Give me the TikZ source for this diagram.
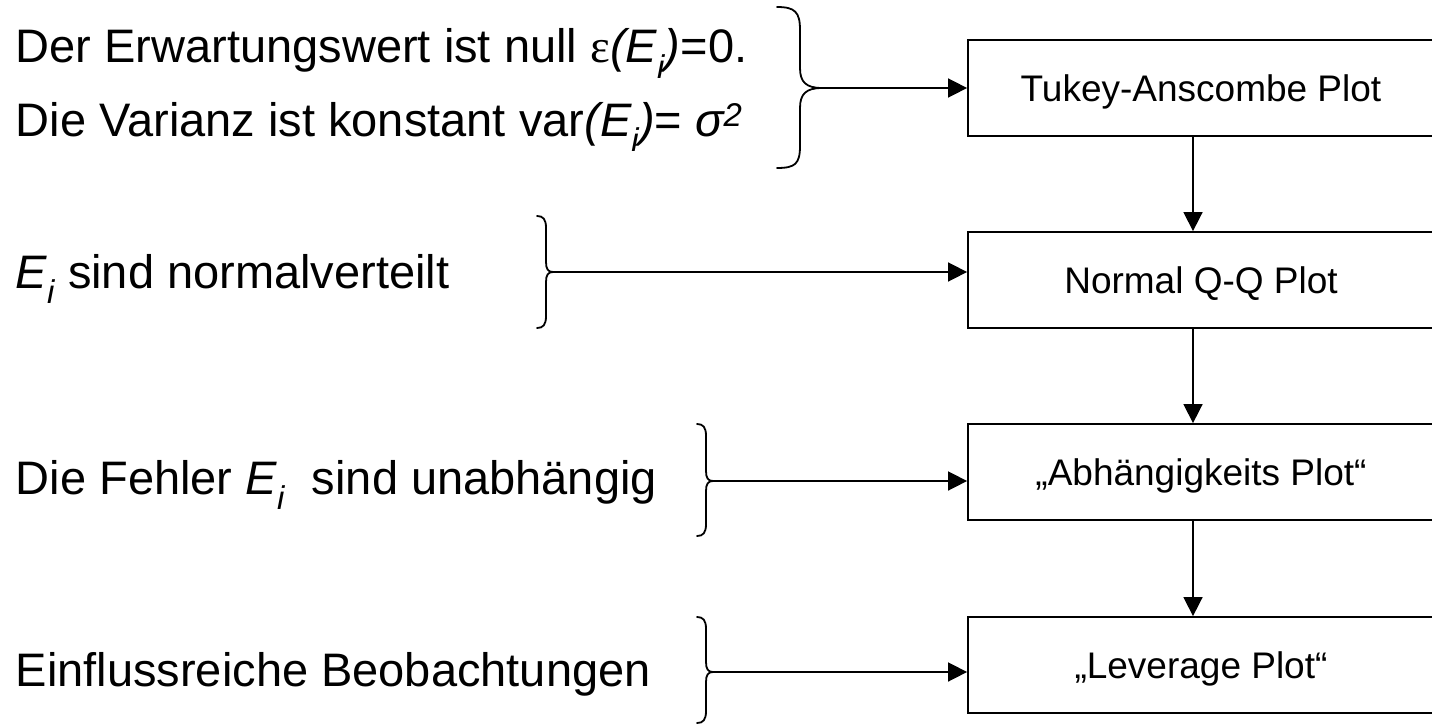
\documentclass[tikz,border=0pt]{standalone}
\usepackage{fontspec}
\setmainfont{Liberation Sans}
\newfontfamily\epsfont{Liberation Serif}
\usetikzlibrary{arrows.meta}
\begin{document}
\begin{tikzpicture}[x=1pt,y=-1pt,
  line width=1.6pt,
  lefttext/.style={anchor=base west,inner sep=0pt,font=\fontsize{47}{56}\selectfont},
  plotbox/.style={draw,line width=1.8pt,minimum width=466pt,minimum height=96pt,inner sep=0pt,text height=34pt,text depth=8pt,font=\fontsize{37}{44}\selectfont},
  conn/.style={-{Triangle[length=19pt,width=19pt]},line width=1.6pt},
  bracepath/.style={line width=1.8pt,line cap=round}]
\useasboundingbox (0,0) rectangle (1432,725);
\clip (0,0) rectangle (1432,725);

% left texts
\node[lefttext] (l1) at (15,63) {Der Erwartungswert ist null {\epsfont ε}\textit{(E\textsubscript{i})}=0.};
\node[lefttext] (l2) at (15,136) {Die Varianz ist konstant var\textit{(E\textsubscript{i})}= \textit{σ\textsuperscript{2}}};
\node[lefttext] (l3) at (15,288) {\textit{E\textsubscript{i}} sind normalverteilt};
\node[lefttext] (l4) at (15,494) {Die Fehler \textit{E\textsubscript{i}}\hspace{0.3em} sind unabhängig};
\node[lefttext] (l5) at (15,686) {Einflussreiche Beobachtungen};

% boxes
\node[plotbox] (b1) at (1201,88) {Tukey-Anscombe Plot};
\node[plotbox] (b2) at (1201,280) {Normal Q-Q Plot};
\node[plotbox] (b3) at (1201,472) {„Abhängigkeits Plot“};
\node[plotbox] (b4) at (1201,665) {„Leverage Plot“};

% braces
\draw[bracepath] (777,7) .. controls (795,7) and (800,12) .. (800,30) -- (800,68)
  .. controls (800,82) and (806,88) .. (822,88)
  .. controls (806,88) and (800,94) .. (800,108) -- (800,146)
  .. controls (800,164) and (795,168) .. (777,168);
\coordinate (t1) at (822,88);

\draw[bracepath] (537,216) .. controls (543,216) and (546,219) .. (546,228) -- (546,262)
  .. controls (546,269) and (548,272) .. (553,272)
  .. controls (548,272) and (546,275) .. (546,282) -- (546,316)
  .. controls (546,325) and (543,328) .. (537,328);
\coordinate (t2) at (553,272);

\draw[bracepath] (697,424) .. controls (703,424) and (706,427) .. (706,436) -- (706,471)
  .. controls (706,478) and (708,481) .. (713,481)
  .. controls (708,481) and (706,484) .. (706,491) -- (706,524)
  .. controls (706,533) and (703,536) .. (697,536);
\coordinate (t3) at (713,481);

\draw[bracepath] (697,617) .. controls (703,617) and (706,620) .. (706,629) -- (706,662)
  .. controls (706,669) and (708,672) .. (713,672)
  .. controls (708,672) and (706,675) .. (706,682) -- (706,711)
  .. controls (706,720) and (703,723) .. (697,723);
\coordinate (t4) at (713,672);

% horizontal arrows
\draw[conn] (t1) -- (t1 -| b1.west);
\draw[conn] (t2) -- (t2 -| b2.west);
\draw[conn] (t3) -- (t3 -| b3.west);
\draw[conn] (t4) -- (t4 -| b4.west);

% vertical arrows
\draw[conn] ([xshift=-8pt]b1.south) -- ([xshift=-8pt]b2.north);
\draw[conn] ([xshift=-8pt]b2.south) -- ([xshift=-8pt]b3.north);
\draw[conn] ([xshift=-8pt]b3.south) -- ([xshift=-8pt]b4.north);
\end{tikzpicture}
\end{document}
